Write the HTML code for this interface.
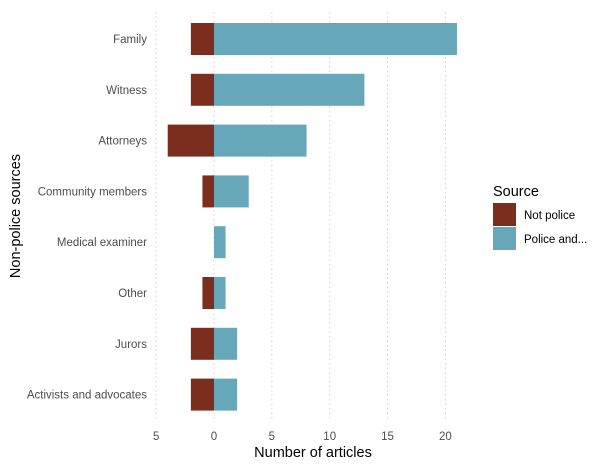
<!DOCTYPE html>
<html><head><meta charset="utf-8"><style>
body{margin:0;background:#fff;font-family:"Liberation Sans",sans-serif}
</style></head><body>
<svg id="chart" width="603" height="466" xmlns="http://www.w3.org/2000/svg">
<g id="grid"></g><g id="bars"></g><g id="ylabels"></g><g id="xticks"></g>
<text x="313" y="457" text-anchor="middle" font-size="14.5" fill="#000">Number of articles</text>
<text transform="translate(20,216) rotate(-90)" text-anchor="middle" font-size="14.5" fill="#000">Non-police sources</text>
<g>
<text x="493" y="196" font-size="14.5">Source</text>
<rect x="493" y="203" width="23" height="23" fill="#7B2E1E"/>
<text x="524" y="219" font-size="11.5">Not police</text>
<rect x="493" y="227" width="23" height="23" fill="#66A8BA"/>
<text x="524" y="243" font-size="11.5">Police and...</text>
</g>
</svg>
<script>
const categories=["Family","Witness","Attorneys","Community members","Medical examiner","Other","Jurors","Activists and advocates"];
const notPolice=[-2,-2,-4,-1,0,-1,-2,-2];
const police=[21,13,8,3,1,1,2,2];
const xTicks=[-5,0,5,10,15,20];
const xTickLabels=["5","0","5","10","15","20"];
const NS="http://www.w3.org/2000/svg";
function x(v){return 214+v*11.57;}
function y(i){return 39+i*50.8;}
const bh=32;
function mk(t,a,p){const e=document.createElementNS(NS,t);for(const k in a)e.setAttribute(k,a[k]);p.appendChild(e);return e;}
const grid=document.getElementById('grid'),bars=document.getElementById('bars'),yl=document.getElementById('ylabels'),xt=document.getElementById('xticks');
xTicks.forEach((v,i)=>{
 const l=mk('line',{x1:x(v),x2:x(v),y1:12,y2:420,stroke:'#d0d0d0','stroke-width':1,'stroke-dasharray':'1.5,3'},grid);
 
 
 const t=mk('text',{x:x(v),y:440,'text-anchor':'middle','font-size':11.5,fill:'#4d4d4d'},xt);
 t.textContent=xTickLabels[i];
 
 
});
categories.forEach((c,i)=>{
 const t=mk('text',{x:147,y:y(i)+4,'text-anchor':'end','font-size':11.5,fill:'#4d4d4d'},yl);
 t.textContent=c;
 
 
 if(notPolice[i]!==0){
  const r=mk('rect',{x:x(notPolice[i]),y:y(i)-bh/2,width:x(0)-x(notPolice[i]),height:bh,fill:'#7B2E1E'},bars);
  
  
 }
 const r2=mk('rect',{x:x(0),y:y(i)-bh/2,width:x(police[i])-x(0),height:bh,fill:'#66A8BA'},bars);
 
 
});
</script>
</body></html>
